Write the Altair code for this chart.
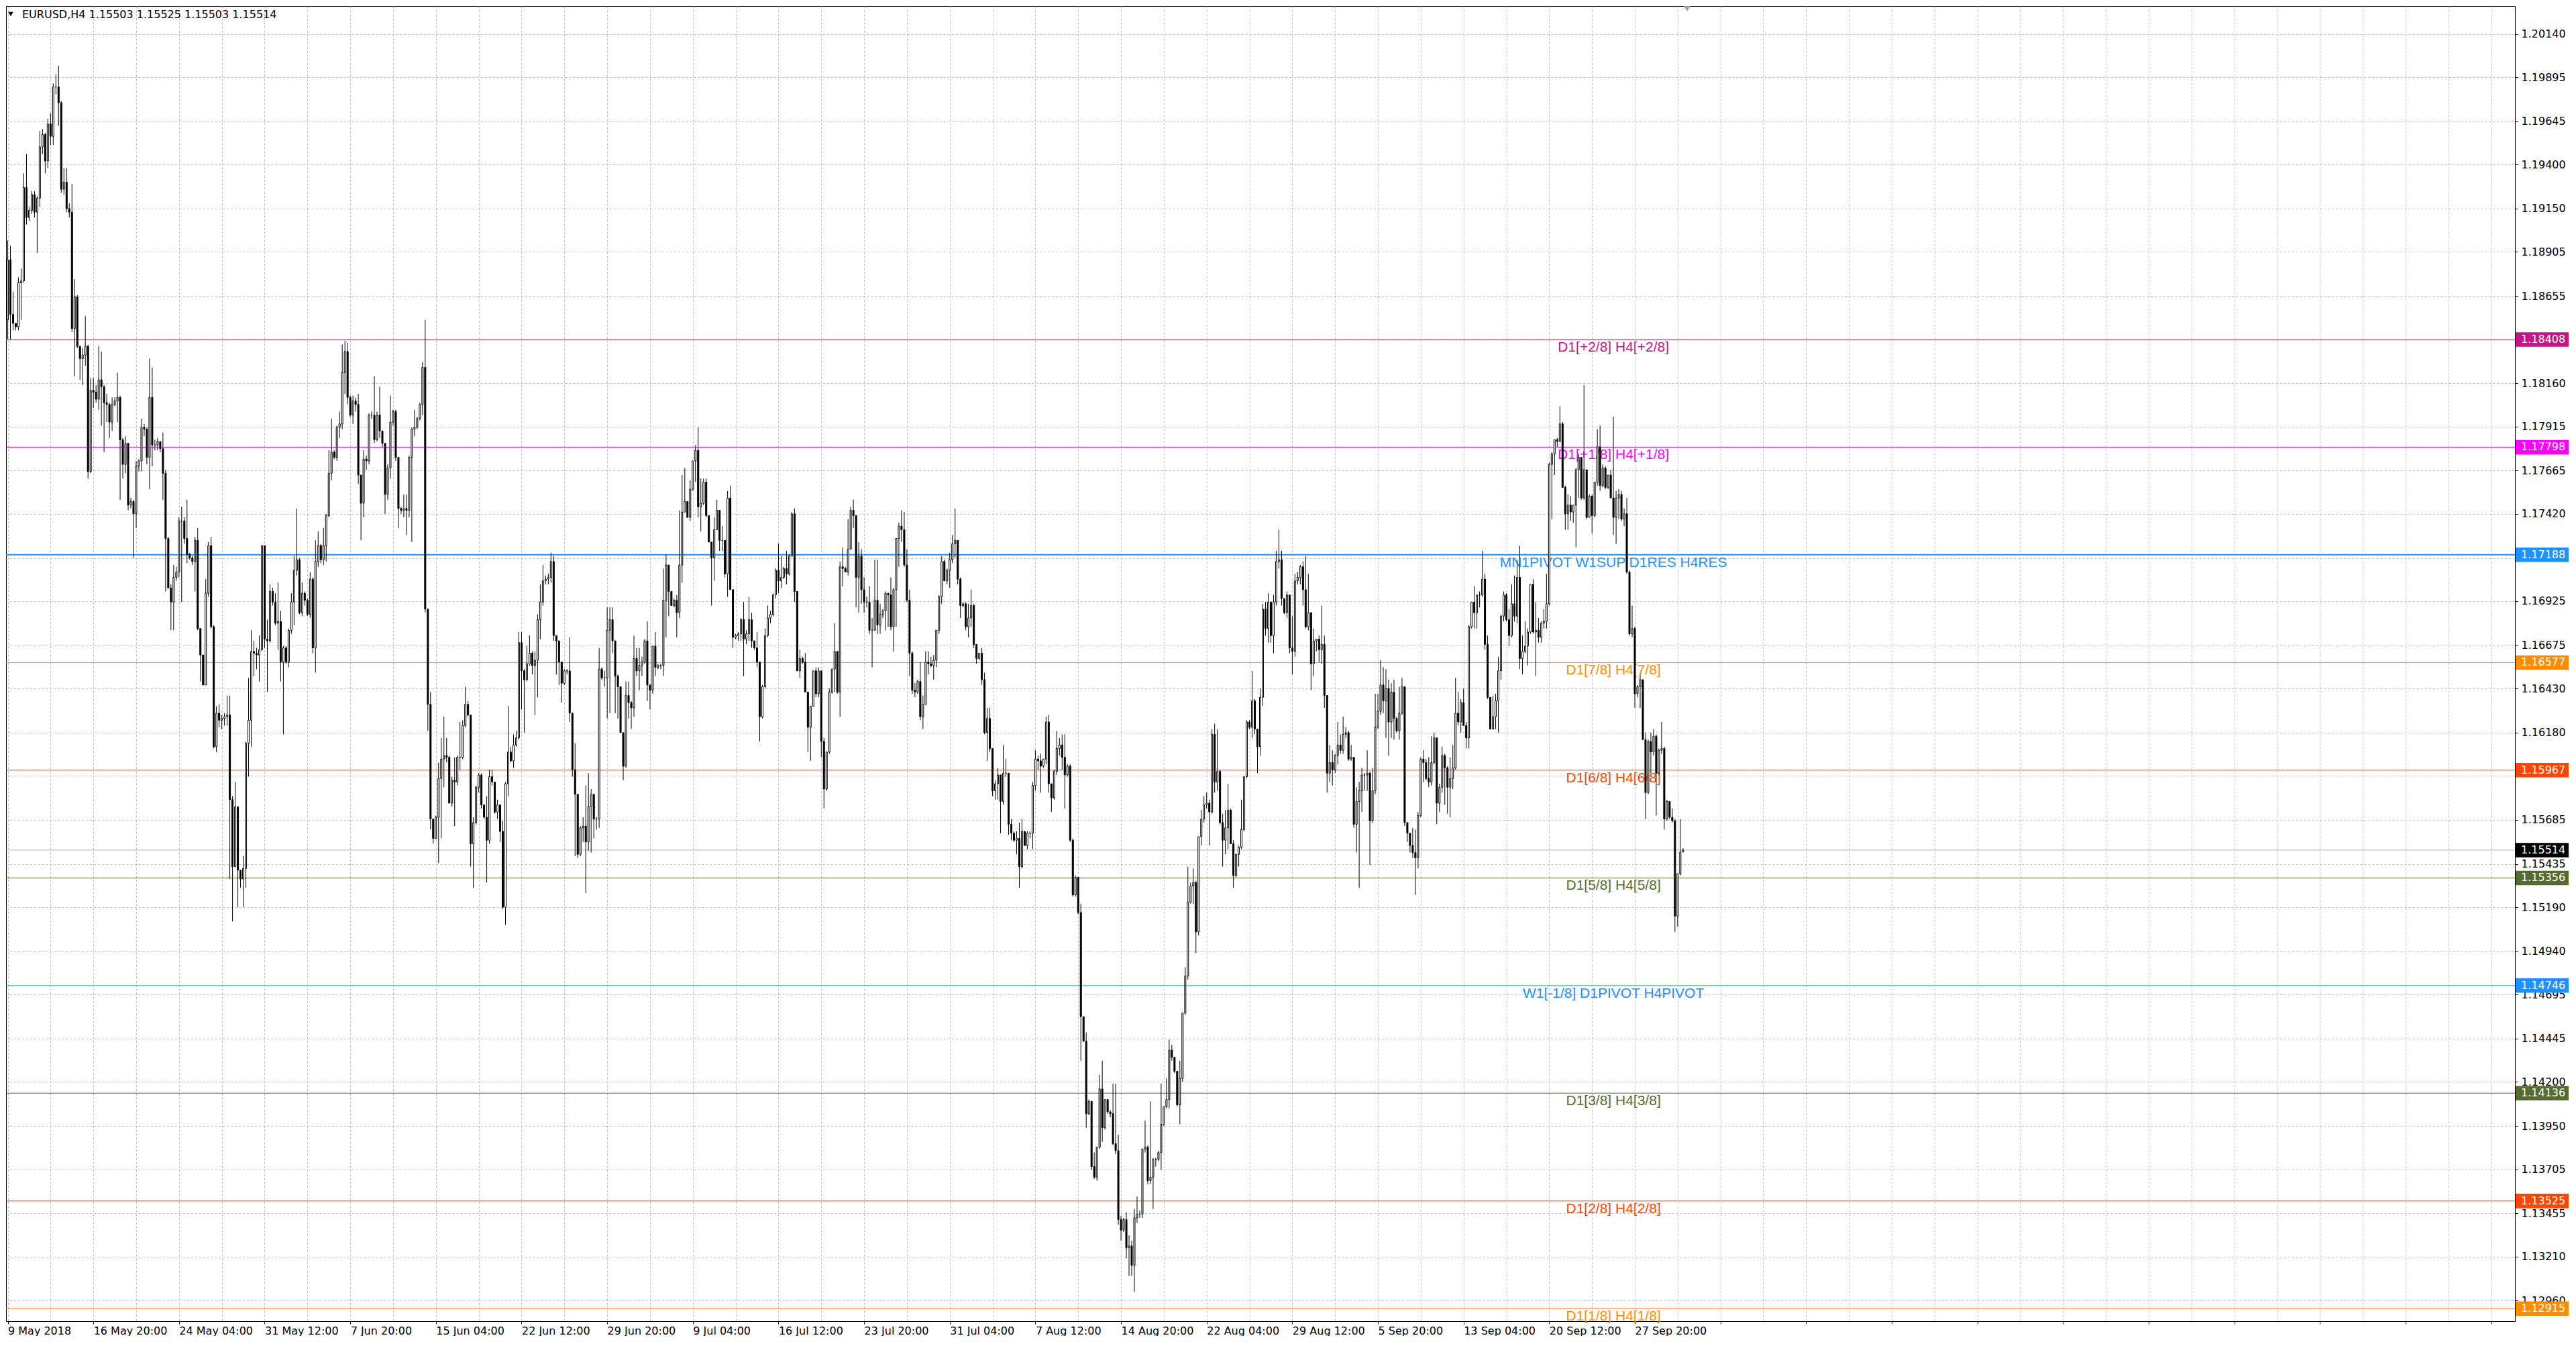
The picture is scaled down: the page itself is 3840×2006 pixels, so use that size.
import json
import altair as alt
import pandas as pd

# ---------------- text / labels ----------------
TITLE = "EURUSD,H4  1.15503 1.15525 1.15503 1.15514"
TIME_LABELS = ["9 May 2018", "16 May 20:00", "24 May 04:00", "31 May 12:00", "7 Jun 20:00",
               "15 Jun 04:00", "22 Jun 12:00", "29 Jun 20:00", "9 Jul 04:00", "16 Jul 12:00",
               "23 Jul 20:00", "31 Jul 04:00", "7 Aug 12:00", "14 Aug 20:00", "22 Aug 04:00",
               "29 Aug 12:00", "5 Sep 20:00", "13 Sep 04:00", "20 Sep 12:00", "27 Sep 20:00"]
BARS_PER_LABEL = 32
BARS_PER_GRID = 16

Y_TICKS = [1.20140, 1.19895, 1.19645, 1.19400, 1.19150, 1.18905, 1.18655, 1.18410, 1.18160,
           1.17915, 1.17665, 1.17420, 1.17170, 1.16925, 1.16675, 1.16430, 1.16180, 1.15935,
           1.15685, 1.15435, 1.15190, 1.14940, 1.14695, 1.14445, 1.14200, 1.13950, 1.13705,
           1.13455, 1.13210, 1.12960]
# price-scale labels that the terminal hides behind level price tags
Y_TICKS_HIDDEN = [1.18410, 1.17170, 1.15935]

LEVEL_PRICES = [1.18408, 1.17798, 1.17188, 1.16577, 1.15967, 1.15356, 1.14746, 1.14136, 1.13525, 1.12915]
LEVEL_TEXTS = ["D1[+2/8] H4[+2/8]", "D1[+1/8] H4[+1/8]", "MN1PIVOT W1SUP D1RES H4RES",
               "D1[7/8] H4[7/8]", "D1[6/8] H4[6/8]", "D1[5/8] H4[5/8]", "W1[-1/8] D1PIVOT H4PIVOT",
               "D1[3/8] H4[3/8]", "D1[2/8] H4[2/8]", "D1[1/8] H4[1/8]"]
LEVEL_COLORS = ["#C71585", "#FF00FF", "#1E90FF", "#FF8C00", "#FF4500",
                "#556B2F", "#1E90FF", "#556B2F", "#FF4500", "#FF8C00"]
LEVEL_WIDTHS = [1, 1, 2, 1, 1, 1, 1, 1, 1, 1]
LAST_PRICE = 1.15514

# ---------------- H4 candles (prices in pips, 1 pip = 0.0001) ----------------
FIRST_OPEN_PIPS = 11852

HIGH_MAY_JUN = [
    11897, 11894, 11868, 11850, 11876, 11881, 11935, 11946, 11916, 11925,
    11925, 11922, 11959, 11960, 11958, 11966, 11969, 11986, 11991, 11996,
    11976, 11938, 11938, 11918, 11929, 11875, 11866, 11837, 11836, 11854,
    11838, 11819, 11819, 11815, 11837, 11834, 11815, 11810, 11805, 11808,
    11808, 11822, 11809, 11785, 11786, 11782, 11751, 11750, 11772, 11773,
    11796, 11793, 11791, 11830, 11825, 11784, 11785, 11783, 11788, 11767,
    11729, 11702, 11713, 11712, 11740, 11746, 11740, 11750, 11720, 11718,
    11729, 11734, 11677, 11662, 11705, 11726, 11729, 11679, 11633, 11634,
    11628, 11629, 11639, 11639, 11582, 11590, 11576, 11540, 11548, 11613,
    11649, 11676, 11670, 11666, 11673, 11724, 11724, 11682, 11702, 11700,
    11697, 11703, 11687, 11667, 11667, 11677, 11697, 11718, 11745, 11717,
    11703, 11698, 11694, 11709, 11706, 11727, 11732, 11725, 11734, 11742,
    11778, 11796, 11778, 11792, 11800, 11838, 11840, 11839, 11809, 11809,
    11808, 11810, 11764, 11778, 11775, 11799, 11800, 11820, 11800, 11814,
    11789, 11782, 11770, 11809, 11801, 11801, 11774, 11746, 11753, 11753,
    11775, 11791, 11801, 11797, 11805, 11828, 11852, 11688, 11641]
LOW_MAY_JUN = [
    11841, 11841, 11846, 11846, 11846, 11852, 11873, 11906, 11908, 11912,
    11910, 11890, 11916, 11946, 11935, 11938, 11951, 11951, 11980, 11962,
    11924, 11923, 11913, 11910, 11845, 11820, 11836, 11818, 11815, 11826,
    11762, 11765, 11802, 11805, 11801, 11792, 11777, 11794, 11785, 11789,
    11803, 11794, 11750, 11762, 11765, 11744, 11745, 11717, 11734, 11766,
    11766, 11786, 11770, 11756, 11769, 11778, 11778, 11777, 11750, 11698,
    11700, 11676, 11676, 11704, 11706, 11692, 11725, 11714, 11716, 11713,
    11698, 11676, 11647, 11645, 11645, 11695, 11677, 11609, 11607, 11621,
    11620, 11622, 11622, 11535, 11511, 11545, 11519, 11530, 11519, 11530,
    11593, 11610, 11650, 11654, 11647, 11664, 11666, 11641, 11669, 11690,
    11679, 11665, 11647, 11617, 11657, 11655, 11674, 11679, 11707, 11685,
    11684, 11690, 11684, 11683, 11663, 11652, 11712, 11714, 11713, 11715,
    11740, 11761, 11773, 11772, 11785, 11790, 11810, 11804, 11797, 11793,
    11800, 11759, 11727, 11740, 11767, 11770, 11796, 11782, 11783, 11785,
    11780, 11742, 11750, 11762, 11792, 11772, 11734, 11742, 11740, 11730,
    11740, 11726, 11786, 11790, 11795, 11798, 11686, 11619, 11563]
CLOSE_MAY_JUN = [
    11886, 11855, 11850, 11848, 11873, 11874, 11927, 11910, 11914, 11923,
    11913, 11921, 11950, 11957, 11942, 11963, 11956, 11984, 11984, 11975,
    11926, 11930, 11915, 11913, 11847, 11865, 11837, 11830, 11832, 11837,
    11766, 11812, 11811, 11807, 11818, 11814, 11805, 11804, 11794, 11804,
    11806, 11808, 11784, 11770, 11782, 11747, 11749, 11742, 11769, 11772,
    11791, 11790, 11774, 11808, 11781, 11781, 11783, 11779, 11765, 11728,
    11700, 11692, 11706, 11709, 11738, 11738, 11728, 11719, 11717, 11715,
    11727, 11677, 11662, 11645, 11697, 11724, 11678, 11610, 11629, 11625,
    11626, 11627, 11628, 11580, 11542, 11576, 11540, 11535, 11541, 11612,
    11625, 11664, 11663, 11662, 11665, 11724, 11671, 11670, 11698, 11692,
    11680, 11681, 11658, 11666, 11658, 11676, 11692, 11710, 11716, 11686,
    11697, 11693, 11685, 11705, 11666, 11715, 11724, 11716, 11724, 11741,
    11765, 11777, 11774, 11791, 11793, 11822, 11834, 11808, 11798, 11806,
    11804, 11764, 11748, 11773, 11772, 11798, 11798, 11784, 11798, 11789,
    11782, 11753, 11768, 11794, 11800, 11774, 11745, 11744, 11745, 11744,
    11774, 11790, 11791, 11796, 11804, 11825, 11688, 11634, 11569]

HIGH_JUN_JUL = [
    11568, 11571, 11601, 11615, 11627, 11615, 11605, 11593, 11604, 11605,
    11624, 11625, 11644, 11636, 11628, 11570, 11588, 11595, 11595, 11577,
    11582, 11597, 11597, 11590, 11580, 11577, 11568, 11590, 11633, 11610,
    11617, 11619, 11675, 11675, 11654, 11667, 11673, 11664, 11664, 11685,
    11702, 11713, 11707, 11708, 11720, 11718, 11673, 11670, 11658, 11654,
    11654, 11672, 11629, 11612, 11583, 11565, 11570, 11588, 11595, 11586,
    11583, 11570, 11666, 11655, 11653, 11689, 11689, 11689, 11668, 11651,
    11644, 11618, 11647, 11647, 11636, 11673, 11666, 11666, 11661, 11671,
    11681, 11645, 11667, 11675, 11657, 11657, 11711, 11719, 11713, 11698,
    11694, 11696, 11744, 11764, 11768, 11749, 11761, 11772, 11781, 11791,
    11762, 11762, 11762, 11741, 11726, 11740, 11750, 11744, 11735, 11727,
    11755, 11758, 11699, 11674, 11675, 11683, 11692, 11676, 11695, 11686,
    11670, 11675, 11658, 11645, 11677, 11690, 11687, 11697, 11711, 11725,
    11718, 11712, 11721, 11719, 11743, 11745, 11698, 11665, 11661, 11663,
    11641, 11633, 11653, 11655, 11655, 11653, 11615, 11607, 11643, 11654,
    11680, 11664, 11715, 11723]
LOW_JUN_JUL = [
    11555, 11558, 11544, 11558, 11587, 11601, 11578, 11576, 11565, 11588,
    11597, 11603, 11621, 11627, 11542, 11530, 11566, 11584, 11575, 11569,
    11533, 11555, 11588, 11572, 11569, 11556, 11518, 11509, 11582, 11601,
    11598, 11610, 11614, 11631, 11618, 11647, 11656, 11651, 11628, 11638,
    11671, 11690, 11702, 11702, 11703, 11670, 11651, 11645, 11635, 11645,
    11651, 11624, 11593, 11548, 11547, 11548, 11556, 11527, 11551, 11550,
    11558, 11563, 11564, 11648, 11644, 11626, 11629, 11663, 11629, 11626,
    11618, 11591, 11598, 11626, 11620, 11627, 11650, 11642, 11650, 11657,
    11636, 11631, 11640, 11650, 11654, 11654, 11650, 11672, 11684, 11690,
    11689, 11672, 11683, 11703, 11743, 11740, 11738, 11755, 11760, 11740,
    11732, 11747, 11740, 11726, 11690, 11704, 11733, 11721, 11721, 11706,
    11695, 11699, 11666, 11671, 11670, 11670, 11650, 11668, 11670, 11666,
    11665, 11655, 11613, 11626, 11643, 11672, 11680, 11684, 11694, 11697,
    11700, 11705, 11702, 11707, 11718, 11692, 11653, 11649, 11657, 11641,
    11607, 11602, 11633, 11638, 11638, 11604, 11575, 11585, 11606, 11640,
    11641, 11640, 11627, 11701]
CLOSE_JUN_JUL = [
    11558, 11570, 11592, 11603, 11605, 11604, 11578, 11591, 11590, 11604,
    11604, 11622, 11634, 11628, 11555, 11567, 11587, 11594, 11577, 11570,
    11557, 11593, 11590, 11573, 11577, 11562, 11519, 11589, 11607, 11602,
    11611, 11615, 11669, 11653, 11648, 11657, 11663, 11656, 11659, 11682,
    11692, 11704, 11705, 11706, 11715, 11673, 11670, 11658, 11646, 11653,
    11653, 11629, 11597, 11583, 11549, 11564, 11565, 11556, 11576, 11583,
    11569, 11569, 11654, 11649, 11649, 11676, 11682, 11670, 11650, 11644,
    11618, 11599, 11639, 11635, 11632, 11660, 11653, 11656, 11658, 11670,
    11645, 11642, 11667, 11655, 11656, 11656, 11693, 11713, 11698, 11690,
    11693, 11686, 11713, 11743, 11749, 11740, 11756, 11772, 11778, 11746,
    11748, 11760, 11741, 11726, 11717, 11733, 11744, 11727, 11727, 11708,
    11751, 11699, 11672, 11673, 11674, 11682, 11671, 11674, 11682, 11670,
    11666, 11658, 11627, 11644, 11673, 11683, 11685, 11696, 11710, 11704,
    11706, 11711, 11708, 11718, 11742, 11698, 11653, 11660, 11658, 11641,
    11621, 11633, 11653, 11640, 11653, 11613, 11586, 11607, 11641, 11654,
    11664, 11641, 11712, 11711]

HIGH_JUL_AUG = [
    11712, 11739, 11746, 11750, 11741, 11726, 11722, 11706, 11695, 11701,
    11683, 11716, 11716, 11691, 11688, 11698, 11697, 11706, 11700, 11728,
    11737, 11744, 11743, 11722, 11699, 11664, 11646, 11648, 11658, 11639,
    11664, 11664, 11661, 11662, 11676, 11696, 11718, 11716, 11711, 11720,
    11730, 11745, 11727, 11706, 11692, 11692, 11691, 11699, 11691, 11668,
    11663, 11666, 11652, 11632, 11632, 11609, 11591, 11598, 11594, 11611,
    11603, 11595, 11569, 11562, 11562, 11567, 11569, 11562, 11562, 11562,
    11590, 11608, 11605, 11606, 11603, 11627, 11628, 11589, 11597, 11619,
    11615, 11617, 11617, 11600, 11600, 11558, 11537, 11535, 11521, 11457,
    11448, 11410, 11409, 11380, 11383, 11424, 11432, 11410, 11410, 11404,
    11419, 11419, 11390, 11344, 11343, 11346, 11333, 11330, 11348, 11355,
    11347, 11382, 11398, 11384, 11409, 11377, 11377, 11381, 11419, 11406,
    11422, 11444, 11441, 11434, 11426, 11432, 11459, 11485, 11542, 11533,
    11541, 11534, 11559, 11574, 11582, 11584, 11580, 11620, 11623, 11620,
    11597, 11572, 11574, 11589, 11575, 11557, 11549, 11554, 11580, 11593,
    11625, 11625, 11653, 11637, 11620, 11643]
LOW_JUL_AUG = [
    11709, 11707, 11722, 11734, 11689, 11686, 11691, 11686, 11689, 11674,
    11655, 11683, 11674, 11674, 11683, 11676, 11678, 11676, 11664, 11678,
    11712, 11726, 11712, 11692, 11650, 11640, 11638, 11640, 11625, 11620,
    11636, 11651, 11655, 11648, 11655, 11674, 11691, 11704, 11702, 11700,
    11714, 11717, 11702, 11683, 11689, 11676, 11672, 11678, 11666, 11657,
    11659, 11645, 11617, 11602, 11607, 11582, 11580, 11580, 11561, 11577,
    11593, 11560, 11557, 11556, 11549, 11530, 11541, 11554, 11552, 11558,
    11552, 11585, 11597, 11584, 11598, 11600, 11584, 11573, 11580, 11594,
    11605, 11597, 11575, 11593, 11556, 11525, 11525, 11515, 11432, 11443,
    11394, 11401, 11370, 11365, 11364, 11382, 11386, 11393, 11402, 11400,
    11384, 11379, 11339, 11330, 11335, 11320, 11310, 11310, 11301, 11340,
    11343, 11343, 11380, 11362, 11362, 11348, 11372, 11375, 11370, 11395,
    11405, 11405, 11432, 11425, 11406, 11396, 11420, 11458, 11478, 11521,
    11521, 11493, 11503, 11554, 11567, 11575, 11554, 11572, 11584, 11585,
    11566, 11542, 11549, 11552, 11555, 11530, 11536, 11542, 11552, 11562,
    11592, 11620, 11615, 11617, 11595, 11605]
CLOSE_JUL_AUG = [
    11709, 11722, 11744, 11741, 11706, 11718, 11699, 11692, 11692, 11676,
    11676, 11693, 11679, 11685, 11687, 11697, 11696, 11678, 11699, 11728,
    11735, 11733, 11713, 11693, 11663, 11642, 11641, 11647, 11627, 11634,
    11658, 11657, 11656, 11659, 11676, 11695, 11715, 11704, 11710, 11716,
    11725, 11727, 11705, 11690, 11691, 11678, 11683, 11690, 11668, 11660,
    11663, 11648, 11618, 11626, 11609, 11585, 11589, 11594, 11579, 11595,
    11595, 11566, 11561, 11557, 11558, 11542, 11562, 11554, 11561, 11561,
    11588, 11603, 11602, 11599, 11603, 11624, 11589, 11581, 11596, 11609,
    11611, 11604, 11594, 11599, 11557, 11526, 11536, 11516, 11457, 11443,
    11402, 11409, 11372, 11366, 11383, 11416, 11394, 11410, 11403, 11402,
    11385, 11381, 11342, 11336, 11342, 11326, 11327, 11316, 11343, 11345,
    11345, 11382, 11383, 11364, 11366, 11376, 11376, 11380, 11396, 11406,
    11410, 11438, 11434, 11426, 11407, 11422, 11459, 11480, 11522, 11531,
    11533, 11505, 11559, 11569, 11577, 11578, 11573, 11617, 11590, 11596,
    11567, 11557, 11564, 11574, 11555, 11537, 11549, 11553, 11563, 11593,
    11624, 11621, 11636, 11620, 11610, 11638]

HIGH_AUG_OCT = [
    11691, 11692, 11697, 11692, 11696, 11721, 11733, 11721, 11694, 11698,
    11696, 11684, 11708, 11709, 11713, 11715, 11718, 11708, 11678, 11677,
    11671, 11673, 11690, 11673, 11639, 11611, 11608, 11606, 11624, 11617,
    11627, 11621, 11619, 11611, 11604, 11587, 11590, 11598, 11595, 11608,
    11596, 11598, 11640, 11640, 11659, 11655, 11654, 11648, 11646, 11648,
    11627, 11644, 11649, 11644, 11567, 11561, 11564, 11563, 11573, 11604,
    11608, 11603, 11604, 11616, 11618, 11615, 11589, 11610, 11606, 11599,
    11604, 11611, 11649, 11641, 11637, 11643, 11624, 11679, 11692, 11701,
    11696, 11698, 11721, 11708, 11673, 11638, 11639, 11640, 11661, 11685,
    11698, 11697, 11688, 11702, 11707, 11716, 11724, 11673, 11681, 11677,
    11702, 11705, 11692, 11683, 11681, 11688, 11708, 11771, 11777, 11784,
    11785, 11803, 11794, 11758, 11753, 11752, 11747, 11768, 11776, 11774,
    11815, 11766, 11753, 11753, 11760, 11790, 11792, 11770, 11769, 11764,
    11767, 11797, 11755, 11756, 11755, 11745, 11751, 11710, 11690, 11678,
    11645, 11651, 11647, 11618, 11614, 11618, 11620, 11617, 11609, 11624,
    11610, 11580, 11579, 11575, 11569, 11538, 11569, 11552.5]
LOW_AUG_OCT = [
    11633, 11673, 11669, 11669, 11663, 11690, 11711, 11690, 11685, 11683,
    11663, 11651, 11661, 11702, 11702, 11690, 11677, 11676, 11642, 11650,
    11664, 11658, 11657, 11632, 11584, 11590, 11588, 11595, 11600, 11606,
    11606, 11615, 11602, 11602, 11564, 11550, 11530, 11573, 11585, 11585,
    11543, 11567, 11583, 11620, 11628, 11629, 11615, 11605, 11615, 11614,
    11618, 11614, 11628, 11565, 11556, 11550, 11547, 11526, 11541, 11570,
    11590, 11591, 11587, 11588, 11600, 11566, 11573, 11584, 11577, 11572,
    11570, 11586, 11597, 11622, 11618, 11622, 11609, 11609, 11677, 11677,
    11677, 11689, 11695, 11665, 11637, 11620, 11621, 11620, 11618, 11648,
    11681, 11681, 11667, 11672, 11681, 11680, 11654, 11651, 11663, 11656,
    11674, 11674, 11650, 11669, 11669, 11677, 11677, 11690, 11739, 11764,
    11780, 11783, 11757, 11733, 11733, 11738, 11737, 11723, 11751, 11750,
    11750, 11739, 11740, 11731, 11740, 11758, 11755, 11757, 11756, 11756,
    11751, 11730, 11725, 11739, 11738, 11735, 11708, 11673, 11672, 11632,
    11638, 11632, 11614, 11569, 11583, 11595, 11605, 11571, 11594, 11606,
    11563, 11568, 11569, 11567, 11505, 11508, 11537, 11550.3]
CLOSE_AUG_OCT = [
    11688, 11677, 11692, 11673, 11692, 11715, 11716, 11694, 11686, 11696,
    11666, 11664, 11704, 11706, 11712, 11699, 11678, 11686, 11657, 11670,
    11671, 11665, 11668, 11639, 11595, 11601, 11597, 11605, 11611, 11608,
    11617, 11618, 11603, 11604, 11566, 11579, 11585, 11594, 11594, 11595,
    11568, 11585, 11621, 11630, 11645, 11636, 11643, 11624, 11641, 11626,
    11619, 11629, 11644, 11567, 11561, 11554, 11550, 11547, 11571, 11603,
    11601, 11592, 11590, 11601, 11615, 11578, 11587, 11605, 11598, 11587,
    11592, 11598, 11629, 11624, 11635, 11622, 11615, 11678, 11692, 11686,
    11696, 11696, 11705, 11668, 11638, 11620, 11627, 11636, 11653, 11684,
    11696, 11682, 11673, 11691, 11684, 11706, 11660, 11664, 11667, 11675,
    11702, 11675, 11676, 11672, 11680, 11681, 11691, 11770, 11776, 11784,
    11783, 11793, 11757, 11742, 11747, 11743, 11747, 11767, 11774, 11751,
    11767, 11740, 11752, 11741, 11760, 11780, 11758, 11768, 11757, 11764,
    11751, 11740, 11751, 11753, 11739, 11742, 11709, 11674, 11677, 11640,
    11644, 11648, 11614, 11584, 11613, 11607, 11616, 11595, 11608, 11609,
    11569, 11579, 11570, 11568, 11514, 11538, 11550.3, 11551.4]

# ---------------- layout / style constants ----------------
W, H = 3740, 1960
X_DOMAIN = [0.625, 935.625]           # bar index range of the visible window
Y_DOMAIN = [1.128436, 1.202986]
LABEL_BAR = 600                       # time position where level names are centred
BOX_HALF = 0.00041                    # half height of price tags, in price units
GRID = "#BDBDBD"

highs = HIGH_MAY_JUN + HIGH_JUN_JUL + HIGH_JUL_AUG + HIGH_AUG_OCT
lows = LOW_MAY_JUN + LOW_JUN_JUL + LOW_JUL_AUG + LOW_AUG_OCT
closes = CLOSE_MAY_JUN + CLOSE_JUN_JUL + CLOSE_JUL_AUG + CLOSE_AUG_OCT
assert len(highs) == len(lows) == len(closes)

rows = []
prev = FIRST_OPEN_PIPS
for i, (hv, lv, cv) in enumerate(zip(highs, lows, closes)):
    ov = prev
    rows.append({"i": i, "o": ov / 1e4, "c": cv / 1e4,
                 "h": max(hv, ov, cv) / 1e4, "l": min(lv, ov, cv) / 1e4})
    prev = cv
cdf = pd.DataFrame(rows)

ldf = pd.DataFrame({"price": LEVEL_PRICES, "label": LEVEL_TEXTS, "color": LEVEL_COLORS,
                    "w": LEVEL_WIDTHS, "bar": [LABEL_BAR] * len(LEVEL_PRICES)})
tag_prices = LEVEL_PRICES + [LAST_PRICE]
tag_colors = LEVEL_COLORS + ["#000000"]
tdf = pd.DataFrame({"price": tag_prices, "color": tag_colors,
                    "txt": [f"{p:.5f}" for p in tag_prices]})
tdf["hi"] = tdf["price"] + BOX_HALF
tdf["lo"] = tdf["price"] - BOX_HALF
pdf = pd.DataFrame({"price": [LAST_PRICE]})

XS = alt.Scale(domain=X_DOMAIN, nice=False, zero=False)
YS = alt.Scale(domain=Y_DOMAIN, nice=False, zero=False)

n_lab = len(TIME_LABELS)
label_expr = (f"(datum.value % {BARS_PER_LABEL} == 0 && datum.value / {BARS_PER_LABEL} < {n_lab}) ? "
              f"{json.dumps(TIME_LABELS)}[datum.value / {BARS_PER_LABEL}] : ''")
hidden_js = json.dumps([f"{v:.5f}" for v in Y_TICKS_HIDDEN])
y_label_expr = f"indexof({hidden_js}, format(datum.value, '.5f')) >= 0 ? '' : format(datum.value, '.5f')"

XAXIS = alt.Axis(values=list(range(0, int(X_DOMAIN[1]) + 1, BARS_PER_GRID)), labelExpr=label_expr,
                 grid=True, gridDash=[3, 3], gridColor=GRID, gridWidth=1, domain=False,
                 tickSize=4,
                 tickColor={"condition": {"test": f"datum.value % {BARS_PER_LABEL} == 0", "value": "black"},
                            "value": "transparent"},
                 labelAlign="left", labelBaseline="top", labelPadding=2,
                 labelFont="DejaVu Sans", labelFontSize=16, labelColor="black",
                 labelOverlap=False, labelFlush=False, labelBound=False, title=None)
YAXIS = alt.Axis(orient="right", values=Y_TICKS, labelExpr=y_label_expr, grid=True, gridDash=[3, 3],
                 gridColor=GRID, gridWidth=1, domain=False, tickSize=4, tickColor="black",
                 labelPadding=5, labelFont="DejaVu Sans", labelFontSize=16, labelColor="black",
                 labelOverlap=False, labelFlush=False, labelBound=False, title=None)

level_rules = alt.Chart(ldf).mark_rule().encode(
    y=alt.Y("price:Q", scale=YS, title=None),
    color=alt.Color("color:N", scale=None),
    strokeWidth=alt.StrokeWidth("w:Q", scale=None))

last_rule = alt.Chart(pdf).mark_rule(color="#B4B4B4", strokeWidth=1).encode(
    y=alt.Y("price:Q", scale=YS, title=None))

level_text = alt.Chart(ldf).mark_text(align="center", baseline="top", font="Liberation Sans",
                                      fontSize=21, dy=1).encode(
    x=alt.X("bar:Q", scale=XS, title=None),
    y=alt.Y("price:Q", scale=YS, title=None),
    text="label:N",
    color=alt.Color("color:N", scale=None))

wicks = alt.Chart(cdf).mark_rule(color="black", strokeWidth=1).encode(
    x=alt.X("i:Q", scale=XS, axis=XAXIS),
    y=alt.Y("h:Q", scale=YS, axis=YAXIS),
    y2="l:Q")

bodies = alt.Chart(cdf).mark_bar(size=2, stroke="black", strokeWidth=1).encode(
    x=alt.X("i:Q", scale=XS, title=None),
    y=alt.Y("o:Q", scale=YS, title=None),
    y2="c:Q",
    fill=alt.condition("datum.c >= datum.o", alt.value("white"), alt.value("black")))

tags = alt.Chart(tdf).mark_rect().encode(
    x=alt.value(W + 1), x2=alt.value(W + 80),
    y=alt.Y("hi:Q", scale=YS, title=None), y2="lo:Q",
    color=alt.Color("color:N", scale=None))

tag_text = alt.Chart(tdf).mark_text(align="left", baseline="middle", font="DejaVu Sans",
                                    fontSize=16, color="white").encode(
    x=alt.value(W + 9),
    y=alt.Y("price:Q", scale=YS, title=None),
    text="txt:N")

title_df = pd.DataFrame({"t": [TITLE]})
title_text = alt.Chart(title_df).mark_text(align="left", baseline="middle", font="DejaVu Sans",
                                           fontSize=16, color="black").encode(
    x=alt.value(24), y=alt.value(13), text="t:N")
title_tri = alt.Chart(title_df).mark_point(shape="triangle-down", filled=True, color="black",
                                           size=60, opacity=1).encode(
    x=alt.value(7), y=alt.value(12))
shift_tri = alt.Chart(title_df).mark_point(shape="triangle-down", filled=True, color="#A0A0A0",
                                           size=90, opacity=1).encode(
    x=alt.value(2506), y=alt.value(4))

chart = alt.layer(
    level_rules, last_rule, level_text, wicks, bodies, tags, tag_text,
    title_text, title_tri, shift_tri
).properties(
    width=W, height=H, padding={"left": 0, "top": 0, "right": 0, "bottom": 0},
    background="white"
).configure_view(stroke="black", strokeWidth=1)

chart.save("out.html", embed_options={"renderer": "svg", "actions": False})
